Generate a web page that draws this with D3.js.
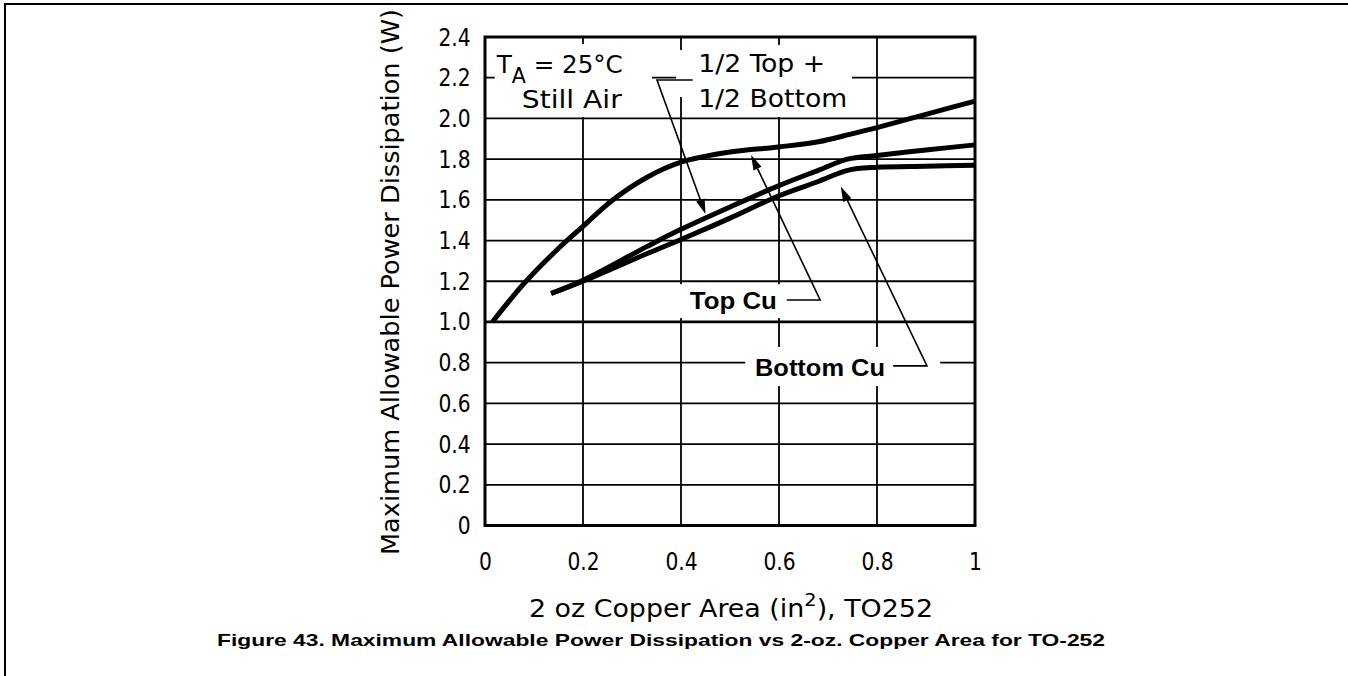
<!DOCTYPE html>
<html><head><meta charset="utf-8">
<script src="https://cdn.jsdelivr.net/npm/d3@7"></script>
<style>
html,body{margin:0;padding:0;background:#fff;}
svg{display:block;}
.cond{font-family:"DejaVu Sans Condensed","DejaVu Sans",sans-serif;font-stretch:condensed;}
.bold{font-family:"Liberation Sans",Arial,sans-serif;font-weight:bold;}
</style>
</head><body>
<svg id="c" width="1348" height="676"></svg>
<script>
// ---- data ----
const xTicks = [0, 0.2, 0.4, 0.6, 0.8, 1];
const xTickLabels = ["0", "0.2", "0.4", "0.6", "0.8", "1"];
const yTicks = [0, 0.2, 0.4, 0.6, 0.8, 1.0, 1.2, 1.4, 1.6, 1.8, 2.0, 2.2, 2.4];
const yTickLabels = ["0", "0.2", "0.4", "0.6", "0.8", "1.0", "1.2", "1.4", "1.6", "1.8", "2.0", "2.2", "2.4"];

const topCuX = [0.015, 0.08, 0.145, 0.2, 0.26, 0.33, 0.4, 0.5, 0.6, 0.68, 0.75, 0.8, 0.9, 1.0];
const topCuY = [1.0, 1.19, 1.35, 1.47, 1.598, 1.71, 1.785, 1.835, 1.86, 1.885, 1.925, 1.955, 2.02, 2.085];

const halfX = [0.135, 0.2, 0.33, 0.4, 0.5, 0.6, 0.68, 0.74, 0.8, 0.9, 1.0];
const halfY = [1.14, 1.205, 1.37, 1.455, 1.565, 1.67, 1.745, 1.8, 1.818, 1.845, 1.87];

const bottomCuX = [0.135, 0.2, 0.33, 0.4, 0.5, 0.6, 0.68, 0.74, 0.8, 0.9, 1.0];
const bottomCuY = [1.14, 1.2, 1.335, 1.405, 1.51, 1.62, 1.69, 1.745, 1.76, 1.765, 1.77];

const xTitle = "2 oz Copper Area (in";
const yTitle = "Maximum Allowable Power Dissipation (W)";
const caption = "Figure 43. Maximum Allowable Power Dissipation vs 2-oz. Copper Area for TO-252";

// ---- layout ----
const svg = d3.select("#c");
const L = 485, R = 975, T = 37, B = 525.5;
const x = d3.scaleLinear().domain([0, 1]).range([L, R]);
const y = d3.scaleLinear().domain([0, 2.4]).range([B, T]);

// page frame
svg.append("path").attr("d", "M5,676 L5,4 L1348,4").attr("fill", "none").attr("stroke", "#000").attr("stroke-width", 2);

// gridlines
const g = svg.append("g");
g.selectAll("line.h").data(yTicks.slice(1, -1)).enter().append("line")
  .attr("x1", L).attr("x2", R).attr("y1", d => y(d)).attr("y2", d => y(d))
  .attr("stroke", "#000").attr("stroke-width", d => d === 1.0 ? 2.8 : 1.8);
g.selectAll("line.v").data(xTicks.slice(1, -1)).enter().append("line")
  .attr("x1", d => x(d)).attr("x2", d => x(d)).attr("y1", T).attr("y2", B)
  .attr("stroke", "#000").attr("stroke-width", 1.8);

// white label boxes (hide gridlines behind annotations), in data units
const boxes = [
  [0.02, 0.341, 2.366, 2.007],
  [0.406, 0.749, 2.361, 2.007],
  [0.39, 0.406, 2.336, 2.105],
  [0.361, 0.72, 1.186, 1.019],
  [0.531, 0.929, 0.877, 0.685]
];
svg.selectAll("rect.box").data(boxes).enter().append("rect")
  .attr("x", d => x(d[0])).attr("width", d => x(d[1]) - x(d[0]))
  .attr("y", d => y(d[2])).attr("height", d => y(d[3]) - y(d[2]))
  .attr("fill", "#fff");

// plot frame
svg.append("rect").attr("x", L).attr("y", T).attr("width", R - L).attr("height", B - T)
  .attr("fill", "none").attr("stroke", "#000").attr("stroke-width", 3);

// axes labels
const yAxis = d3.axisLeft(y).tickValues(yTicks).tickSize(0).tickPadding(16)
  .tickFormat((d, i) => yTickLabels[i]);
const ya = svg.append("g").attr("transform", `translate(${L},0)`).call(yAxis);
ya.select(".domain").remove();
ya.selectAll("text").attr("class", "cond").attr("font-size", 25).attr("fill", "#000")
  .attr("transform", "scale(0.9,1)");

const xAxis = d3.axisBottom(x).tickValues(xTicks).tickSize(0).tickPadding(27)
  .tickFormat((d, i) => xTickLabels[i]);
const xa = svg.append("g").attr("transform", `translate(0,${B})`).call(xAxis);
xa.select(".domain").remove();
xa.selectAll("text").attr("class", "cond").attr("font-size", 25).attr("fill", "#000")
  .attr("transform", "scale(0.9,1)");

// curves
const line = d3.line().curve(d3.curveCatmullRom.alpha(0.5));
const series = [[topCuX, topCuY], [halfX, halfY], [bottomCuX, bottomCuY]];
svg.selectAll("path.curve").data(series).enter().append("path")
  .attr("d", s => line(s[0].map((v, i) => [x(v), y(s[1][i])])))
  .attr("fill", "none").attr("stroke", "#000").attr("stroke-width", 5);

// leaders with arrows, data units: [start, corner, tip]
const leaders = [
  [[0.424, 2.189], [0.351, 2.189], [0.45, 1.53]],
  [[0.616, 1.108], [0.684, 1.108], [0.543, 1.820]],
  [[0.833, 0.784], [0.902, 0.784], [0.726, 1.665]]
];
leaders.forEach(pts => {
  const p = pts.map(d => [x(d[0]), y(d[1])]);
  const tip = p[2], c = p[1];
  const dx = tip[0] - c[0], dy = tip[1] - c[1], len = Math.hypot(dx, dy);
  const ux = dx / len, uy = dy / len, ah = 15, aw = 4.5;
  const base = [tip[0] - ux * ah, tip[1] - uy * ah];
  svg.append("path").attr("d", d3.line()([p[0], p[1], base]))
    .attr("fill", "none").attr("stroke", "#000").attr("stroke-width", 1.6);
  svg.append("path").attr("d", d3.line()([tip, [base[0] - uy * aw, base[1] + ux * aw], [base[0] + uy * aw, base[1] - ux * aw]]) + "Z")
    .attr("fill", "#000");
});

// annotation texts
function cText(xv, yv, w, size, cls) {
  return svg.append("text").attr("class", cls).attr("x", x(xv)).attr("y", y(yv))
    .attr("font-size", size).attr("fill", "#000")
    .attr("textLength", w).attr("lengthAdjust", "spacingAndGlyphs");
}
const ta = cText(0.024, 2.223, 126, 25, "cond");
ta.append("tspan").text("T");
ta.append("tspan").attr("dy", 10).attr("font-size", 21).text("A");
ta.append("tspan").attr("dy", -10).text(" = 25°C");
cText(0.075, 2.051, 100, 25, "cond").text("Still Air");
cText(0.435, 2.228, 127, 25, "cond").text("1/2 Top +");
cText(0.435, 2.056, 149, 25, "cond").text("1/2 Bottom");
cText(0.418, 1.064, 87, 24, "bold").text("Top Cu");
cText(0.551, 0.734, 130, 24, "bold").text("Bottom Cu");

// axis titles
const xt = svg.append("text").attr("class", "cond").attr("x", 529).attr("y", 617)
  .attr("font-size", 25).attr("fill", "#000")
  .attr("textLength", 404).attr("lengthAdjust", "spacingAndGlyphs");
xt.append("tspan").text(xTitle);
xt.append("tspan").attr("dy", -11).attr("font-size", 18).text("2");
xt.append("tspan").attr("dy", 11).text("), TO252");

svg.append("text").attr("class", "cond")
  .attr("transform", "translate(399,282) rotate(-90)")
  .attr("text-anchor", "middle").attr("font-size", 24).attr("fill", "#000")
  .attr("textLength", 546).attr("lengthAdjust", "spacingAndGlyphs")
  .text(yTitle);

svg.append("text").attr("class", "bold").attr("x", 217).attr("y", 646)
  .attr("font-size", 17).attr("fill", "#000")
  .attr("textLength", 888).attr("lengthAdjust", "spacingAndGlyphs")
  .text(caption);
</script>
</body></html>
